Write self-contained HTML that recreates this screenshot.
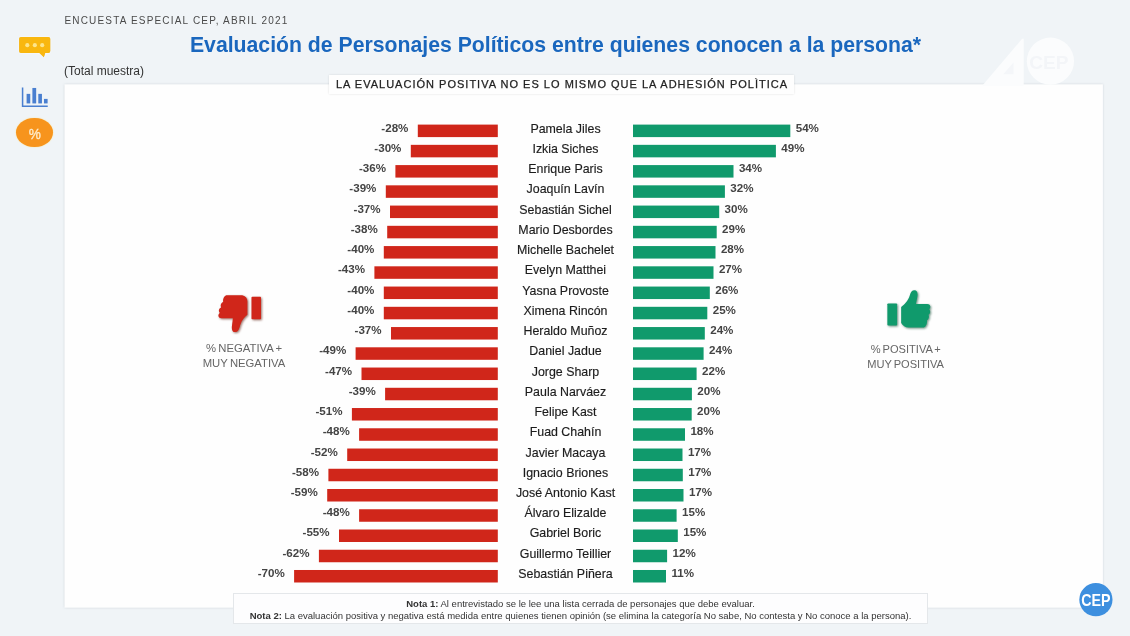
<!DOCTYPE html>
<html lang="es">
<head>
<meta charset="utf-8">
<title>Evaluación de Personajes Políticos</title>
<style>
html,body{margin:0;padding:0;}
body{width:1130px;height:636px;overflow:hidden;background:#f0f4f7;font-family:"Liberation Sans",Arial,sans-serif;position:relative;color:#222;}
.abs{position:absolute;}
#hdr{left:64.4px;top:15px;font-size:10px;letter-spacing:1.18px;color:#4a4a4a;white-space:nowrap;}
#title{left:0;width:1111px;top:32.8px;text-align:center;font-size:21.23px;font-weight:bold;color:#1a67be;white-space:nowrap;}
#tot{left:64px;top:64px;font-size:12px;color:#333;}
#sub{left:329.4px;top:74.8px;width:464.2px;height:19.4px;background:#fefefe;box-shadow:0 0 2px rgba(0,0,0,.12);text-align:center;font-size:11px;line-height:19.4px;letter-spacing:1.01px;text-indent:1px;color:#222;-webkit-text-stroke:0.25px #222;white-space:nowrap;}
.row{position:absolute;left:0;width:1130px;height:15px;}
.row span{position:absolute;line-height:15px;white-space:nowrap;}
.nl,.pl{top:0;transform:translateY(-0.7px);font-weight:bold;font-size:11.6px;color:#444;}
.nm{top:0;transform:translateY(0.7px);left:465.5px;width:200px;text-align:center;font-size:12.4px;color:#1c1c1c;-webkit-text-stroke:.15px #1c1c1c;}
.lab{word-spacing:-1.2px;font-size:11.1px;color:#666;text-align:center;line-height:14.7px;white-space:nowrap;}
#notes{left:233px;top:593px;width:695px;height:31px;background:#fdfdfe;border:1px solid #e4e7ea;box-sizing:border-box;text-align:center;font-size:9.5px;line-height:11.6px;color:#333;padding-top:4.1px;white-space:nowrap;}
</style>
</head>
<body>
<div class="abs" id="hdr">ENCUESTA ESPECIAL CEP, ABRIL 2021</div>
<div class="abs" id="title">Evaluación de Personajes Políticos entre quienes conocen a la persona*</div>
<div class="abs" id="tot">(Total muestra)</div>

<svg class="abs" style="left:0;top:0" width="1130" height="636" viewBox="0 0 1130 636"><rect x="64.500" y="84.300" width="1038.4" height="523.4" fill="#fefefe" style="filter:drop-shadow(0 0 1px rgba(60,70,90,.18))"/></svg>
<!-- watermark logo -->
<svg class="abs" style="left:960px;top:20px;filter:blur(0.6px)" width="170" height="100" viewBox="0 0 1081 636">
  <g fill="#fbfcfd">
    <path d="M395 120L405 120L405 420L140 420Z"/>
    <circle cx="575" cy="262" r="150"/>
  </g>
  <path d="M340 270L340 345L275 345Z" fill="#f4f6f9"/>
  <text x="565" y="312" text-anchor="middle" font-family="Liberation Sans, sans-serif" font-weight="bold" font-size="122" fill="#f3f5f8">CEP</text>
</svg>

<div class="abs" id="sub">LA EVALUACIÓN POSITIVA NO ES LO MISMO QUE LA ADHESIÓN POLÌTICA</div>

<!-- left icons -->
<svg class="abs" style="left:10px;top:25px;filter:drop-shadow(.8px .8px .6px rgba(170,115,0,.4)) drop-shadow(0 0 1.2px rgba(255,255,255,.9))" width="60" height="40" viewBox="0 0 954 636">
  <path d="M175 190h435a30 30 0 0 1 30 30v195a30 30 0 0 1-30 30h-50l-22 68-70-68h-293a30 30 0 0 1-30-30v-195a30 30 0 0 1 30-30z" fill="#f9b70f"/>
  <circle cx="275" cy="320" r="33" fill="#fde58c"/><circle cx="395" cy="320" r="33" fill="#fde58c"/><circle cx="512" cy="320" r="33" fill="#fde58c"/>
</svg>
<svg class="abs" style="left:10px;top:75px" width="60" height="80" viewBox="0 0 477 636">
  <path d="M100 100v148h200" fill="none" stroke="#4a7fd0" stroke-width="12"/>
  <rect x="132" y="150" width="29" height="76" fill="#4a7fd0"/>
  <rect x="178" y="103" width="30" height="123" fill="#4a7fd0"/>
  <rect x="225" y="150" width="29" height="76" fill="#4a7fd0"/>
  <rect x="270" y="190" width="29" height="36" fill="#4a7fd0"/>
</svg>
<div class="abs" style="left:16.3px;top:117.8px;width:37.1px;height:29.5px;border-radius:50%;background:#f7941d;box-shadow:0 0 1.5px #fbe08a;color:#fdeccb;font-size:15.5px;line-height:32.5px;text-align:center;"><span style="display:inline-block;transform:scaleX(.88);-webkit-text-stroke:.35px #fdeccb;">%</span></div>

<svg class="abs" style="left:0;top:0" width="1130" height="636" viewBox="0 0 1130 636">
<rect x="417.8" y="124.60" width="80.0" height="12.5" fill="#d0261a"/><rect x="633.0" y="124.60" width="157.3" height="12.5" fill="#109a6c"/>
<rect x="410.8" y="144.84" width="87.0" height="12.5" fill="#d0261a"/><rect x="633.0" y="144.84" width="142.9" height="12.5" fill="#109a6c"/>
<rect x="395.4" y="165.09" width="102.4" height="12.5" fill="#d0261a"/><rect x="633.0" y="165.09" width="100.5" height="12.5" fill="#109a6c"/>
<rect x="385.8" y="185.33" width="112.0" height="12.5" fill="#d0261a"/><rect x="633.0" y="185.33" width="91.9" height="12.5" fill="#109a6c"/>
<rect x="390.0" y="205.58" width="107.8" height="12.5" fill="#d0261a"/><rect x="633.0" y="205.58" width="86.2" height="12.5" fill="#109a6c"/>
<rect x="387.2" y="225.82" width="110.6" height="12.5" fill="#d0261a"/><rect x="633.0" y="225.82" width="83.7" height="12.5" fill="#109a6c"/>
<rect x="383.8" y="246.07" width="114.0" height="12.5" fill="#d0261a"/><rect x="633.0" y="246.07" width="82.5" height="12.5" fill="#109a6c"/>
<rect x="374.4" y="266.31" width="123.4" height="12.5" fill="#d0261a"/><rect x="633.0" y="266.31" width="80.5" height="12.5" fill="#109a6c"/>
<rect x="383.8" y="286.56" width="114.0" height="12.5" fill="#d0261a"/><rect x="633.0" y="286.56" width="76.8" height="12.5" fill="#109a6c"/>
<rect x="383.8" y="306.81" width="114.0" height="12.5" fill="#d0261a"/><rect x="633.0" y="306.81" width="74.3" height="12.5" fill="#109a6c"/>
<rect x="391.0" y="327.05" width="106.8" height="12.5" fill="#d0261a"/><rect x="633.0" y="327.05" width="71.8" height="12.5" fill="#109a6c"/>
<rect x="355.6" y="347.30" width="142.2" height="12.5" fill="#d0261a"/><rect x="633.0" y="347.30" width="70.6" height="12.5" fill="#109a6c"/>
<rect x="361.5" y="367.54" width="136.3" height="12.5" fill="#d0261a"/><rect x="633.0" y="367.54" width="63.6" height="12.5" fill="#109a6c"/>
<rect x="385.1" y="387.78" width="112.7" height="12.5" fill="#d0261a"/><rect x="633.0" y="387.78" width="58.9" height="12.5" fill="#109a6c"/>
<rect x="351.9" y="408.03" width="145.9" height="12.5" fill="#d0261a"/><rect x="633.0" y="408.03" width="58.7" height="12.5" fill="#109a6c"/>
<rect x="359.1" y="428.27" width="138.7" height="12.5" fill="#d0261a"/><rect x="633.0" y="428.27" width="52.0" height="12.5" fill="#109a6c"/>
<rect x="347.2" y="448.52" width="150.6" height="12.5" fill="#d0261a"/><rect x="633.0" y="448.52" width="49.5" height="12.5" fill="#109a6c"/>
<rect x="328.4" y="468.76" width="169.4" height="12.5" fill="#d0261a"/><rect x="633.0" y="468.76" width="49.8" height="12.5" fill="#109a6c"/>
<rect x="327.2" y="489.01" width="170.6" height="12.5" fill="#d0261a"/><rect x="633.0" y="489.01" width="50.5" height="12.5" fill="#109a6c"/>
<rect x="359.1" y="509.25" width="138.7" height="12.5" fill="#d0261a"/><rect x="633.0" y="509.25" width="43.6" height="12.5" fill="#109a6c"/>
<rect x="339.0" y="529.50" width="158.8" height="12.5" fill="#d0261a"/><rect x="633.0" y="529.50" width="44.8" height="12.5" fill="#109a6c"/>
<rect x="318.9" y="549.75" width="178.9" height="12.5" fill="#d0261a"/><rect x="633.0" y="549.75" width="34.1" height="12.5" fill="#109a6c"/>
<rect x="294.1" y="569.99" width="203.7" height="12.5" fill="#d0261a"/><rect x="633.0" y="569.99" width="33.0" height="12.5" fill="#109a6c"/>
</svg>
<div class="row" style="top:121px"><span class="nl" style="right:721.6px">-28%</span><span class="nm">Pamela Jiles</span><span class="pl" style="left:795.7px">54%</span></div>
<div class="row" style="top:141px"><span class="nl" style="right:728.6px">-30%</span><span class="nm">Izkia Siches</span><span class="pl" style="left:781.3px">49%</span></div>
<div class="row" style="top:161px"><span class="nl" style="right:744.0px">-36%</span><span class="nm">Enrique Paris</span><span class="pl" style="left:738.9px">34%</span></div>
<div class="row" style="top:181px"><span class="nl" style="right:753.6px">-39%</span><span class="nm">Joaquín Lavín</span><span class="pl" style="left:730.3px">32%</span></div>
<div class="row" style="top:202px"><span class="nl" style="right:749.4px">-37%</span><span class="nm">Sebastián Sichel</span><span class="pl" style="left:724.6px">30%</span></div>
<div class="row" style="top:222px"><span class="nl" style="right:752.2px">-38%</span><span class="nm">Mario Desbordes</span><span class="pl" style="left:722.1px">29%</span></div>
<div class="row" style="top:242px"><span class="nl" style="right:755.6px">-40%</span><span class="nm">Michelle Bachelet</span><span class="pl" style="left:720.9px">28%</span></div>
<div class="row" style="top:262px"><span class="nl" style="right:765.0px">-43%</span><span class="nm">Evelyn Matthei</span><span class="pl" style="left:718.9px">27%</span></div>
<div class="row" style="top:283px"><span class="nl" style="right:755.6px">-40%</span><span class="nm">Yasna Provoste</span><span class="pl" style="left:715.2px">26%</span></div>
<div class="row" style="top:303px"><span class="nl" style="right:755.6px">-40%</span><span class="nm">Ximena Rincón</span><span class="pl" style="left:712.7px">25%</span></div>
<div class="row" style="top:323px"><span class="nl" style="right:748.4px">-37%</span><span class="nm">Heraldo Muñoz</span><span class="pl" style="left:710.2px">24%</span></div>
<div class="row" style="top:343px"><span class="nl" style="right:783.8px">-49%</span><span class="nm">Daniel Jadue</span><span class="pl" style="left:709.0px">24%</span></div>
<div class="row" style="top:364px"><span class="nl" style="right:777.9px">-47%</span><span class="nm">Jorge Sharp</span><span class="pl" style="left:702.0px">22%</span></div>
<div class="row" style="top:384px"><span class="nl" style="right:754.3px">-39%</span><span class="nm">Paula Narváez</span><span class="pl" style="left:697.3px">20%</span></div>
<div class="row" style="top:404px"><span class="nl" style="right:787.5px">-51%</span><span class="nm">Felipe Kast</span><span class="pl" style="left:697.1px">20%</span></div>
<div class="row" style="top:424px"><span class="nl" style="right:780.3px">-48%</span><span class="nm">Fuad Chahín</span><span class="pl" style="left:690.4px">18%</span></div>
<div class="row" style="top:445px"><span class="nl" style="right:792.2px">-52%</span><span class="nm">Javier Macaya</span><span class="pl" style="left:687.9px">17%</span></div>
<div class="row" style="top:465px"><span class="nl" style="right:811.0px">-58%</span><span class="nm">Ignacio Briones</span><span class="pl" style="left:688.2px">17%</span></div>
<div class="row" style="top:485px"><span class="nl" style="right:812.2px">-59%</span><span class="nm">José Antonio Kast</span><span class="pl" style="left:688.9px">17%</span></div>
<div class="row" style="top:505px"><span class="nl" style="right:780.3px">-48%</span><span class="nm">Álvaro Elizalde</span><span class="pl" style="left:682.0px">15%</span></div>
<div class="row" style="top:525px"><span class="nl" style="right:800.4px">-55%</span><span class="nm">Gabriel Boric</span><span class="pl" style="left:683.2px">15%</span></div>
<div class="row" style="top:546px"><span class="nl" style="right:820.5px">-62%</span><span class="nm">Guillermo Teillier</span><span class="pl" style="left:672.5px">12%</span></div>
<div class="row" style="top:566px"><span class="nl" style="right:845.3px">-70%</span><span class="nm">Sebastián Piñera</span><span class="pl" style="left:671.4px">11%</span></div>

<!-- thumbs down -->
<svg class="abs" style="left:205px;top:280px;filter:drop-shadow(1.5px 1.6px 1px rgba(90,25,10,.6))" width="80" height="65" viewBox="0 0 783 636">
  <g fill="#d0261a">
    <rect x="455" y="165" width="93" height="220" rx="8"/>
    <path d="M215 150L350 150C390 150 415 175 415 210L415 340C390 360 360 390 345 440C335 480 325 510 295 510C265 510 258 480 265 440C268 415 272 395 272 375L160 375C130 375 120 340 145 322C128 305 135 275 158 268C148 250 155 222 178 215C172 185 190 150 215 150Z"/>
  </g>
</svg>
<div class="abs lab" style="left:179px;top:341.400px;width:130px;font-size:11.3px;word-spacing:-0.8px;">% NEGATIVA +<br>MUY NEGATIVA</div>

<!-- thumbs up -->
<svg class="abs" style="left:870px;top:280px;filter:drop-shadow(1.5px 1.6px 1px rgba(10,70,45,.6))" width="80" height="65" viewBox="0 0 783 636">
  <g fill="#109a6c">
    <rect x="170" y="230" width="95" height="215" rx="8"/>
    <path d="M305 420L305 265C335 245 375 200 390 150C400 115 410 100 435 100C465 100 470 135 462 170C458 195 452 215 450 235L560 235C590 235 600 265 580 285C595 305 590 330 572 340C582 360 575 385 557 395C562 425 545 465 520 465L380 465C345 465 320 445 305 420Z"/>
  </g>
</svg>
<div class="abs lab" style="left:840.7px;top:342.400px;width:130px;">% POSITIVA +<br>MUY POSITIVA</div>

<div class="abs" id="notes"><b>Nota 1:</b> Al entrevistado se le lee una lista cerrada de personajes que debe evaluar.<br><b>Nota 2:</b> La evaluación positiva y negativa está medida entre quienes tienen opinión (se elimina la categoría No sabe, No contesta y No conoce a la persona).</div>
<svg class="abs" style="left:1070px;top:575px" width="60" height="55" viewBox="0 0 60 55">
  <circle cx="25.9" cy="24.7" r="16.6" fill="#3d8fdf"/>
  <text x="11.2" y="30.800" font-family="Liberation Sans, sans-serif" font-weight="bold" font-size="17" fill="#fff" textLength="29.3" lengthAdjust="spacingAndGlyphs">CEP</text>
</svg>
</body>
</html>
